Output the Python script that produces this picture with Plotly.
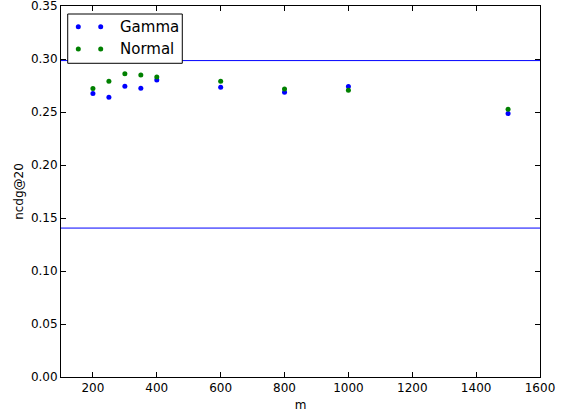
import plotly.graph_objects as go

m_values = [200, 250, 300, 350, 400, 600, 800, 1000, 1500]
gamma_ndcg = [0.2674, 0.2639, 0.2743, 0.2724, 0.2803, 0.2734, 0.2687, 0.2740, 0.2485]
normal_ndcg = [0.2721, 0.2791, 0.2860, 0.2850, 0.2831, 0.2791, 0.2718, 0.2705, 0.2526]
hlines = [0.2985, 0.1405]
series_names = ["Gamma", "Normal"]
series_colors = ["#0000ff", "#008000"]

x_ticks = [200, 400, 600, 800, 1000, 1200, 1400, 1600]
y_ticks = [0.00, 0.05, 0.10, 0.15, 0.20, 0.25, 0.30, 0.35]

fig = go.Figure()
for name, color, vals in zip(series_names, series_colors, [gamma_ndcg, normal_ndcg]):
    fig.add_trace(go.Scatter(x=m_values, y=vals, mode="markers", name=name, showlegend=False,
                             marker=dict(color=color, size=5, line=dict(width=0))))
for h in hlines:
    fig.add_shape(type="line", xref="paper", yref="y", x0=0, x1=1, y0=h, y1=h,
                  line=dict(color="#0000ff", width=1))

# matplotlib-style legend (two markers per entry), in paper coordinates
fig.add_shape(type="rect", xref="paper", yref="paper", x0=0.014, x1=0.2532, y0=0.8456, y1=0.9784,
              line=dict(color="black", width=1), fillcolor="white", layer="above")
legend_rows = [0.9442, 0.8841]
for name, color, yy in zip(series_names, series_colors, legend_rows):
    for xx in [0.0361, 0.0829]:
        fig.add_shape(type="circle", xref="paper", yref="paper", xsizemode="pixel", ysizemode="pixel",
                      xanchor=xx, yanchor=yy, x0=-2.5, x1=2.5, y0=-2.5, y1=2.5,
                      fillcolor=color, line=dict(width=0), layer="above")
    fig.add_annotation(xref="paper", yref="paper", x=0.1196, y=yy, text=name, showarrow=False,
                       xanchor="left", yanchor="middle", font=dict(size=15, color="black"))

axis_common = dict(showgrid=False, zeroline=False, showline=True, linecolor="black",
                   linewidth=1, mirror="allticks", ticks="inside", ticklen=5,
                   tickcolor="black", tickfont=dict(size=12, color="black"),
                   ticklabeloverflow="allow")
fig.update_xaxes(range=[100, 1600], tickvals=x_ticks, title=dict(text="m", font=dict(size=12), standoff=6),
                 **axis_common)
fig.update_yaxes(range=[0, 0.35], tickvals=y_ticks, tickformat=".2f",
                 title=dict(text="ncdg@20", font=dict(size=12), standoff=4), **axis_common)

fig.update_layout(
    width=561, height=417,
    margin=dict(l=61, r=21, t=6, b=40, autoexpand=False),
    paper_bgcolor="white", plot_bgcolor="white",
    font=dict(family="DejaVu Sans", color="black"),
    showlegend=False,
)
fig.write_html("out.html", config={"displayModeBar": False},
               post_script="document.body.style.margin='0';")
